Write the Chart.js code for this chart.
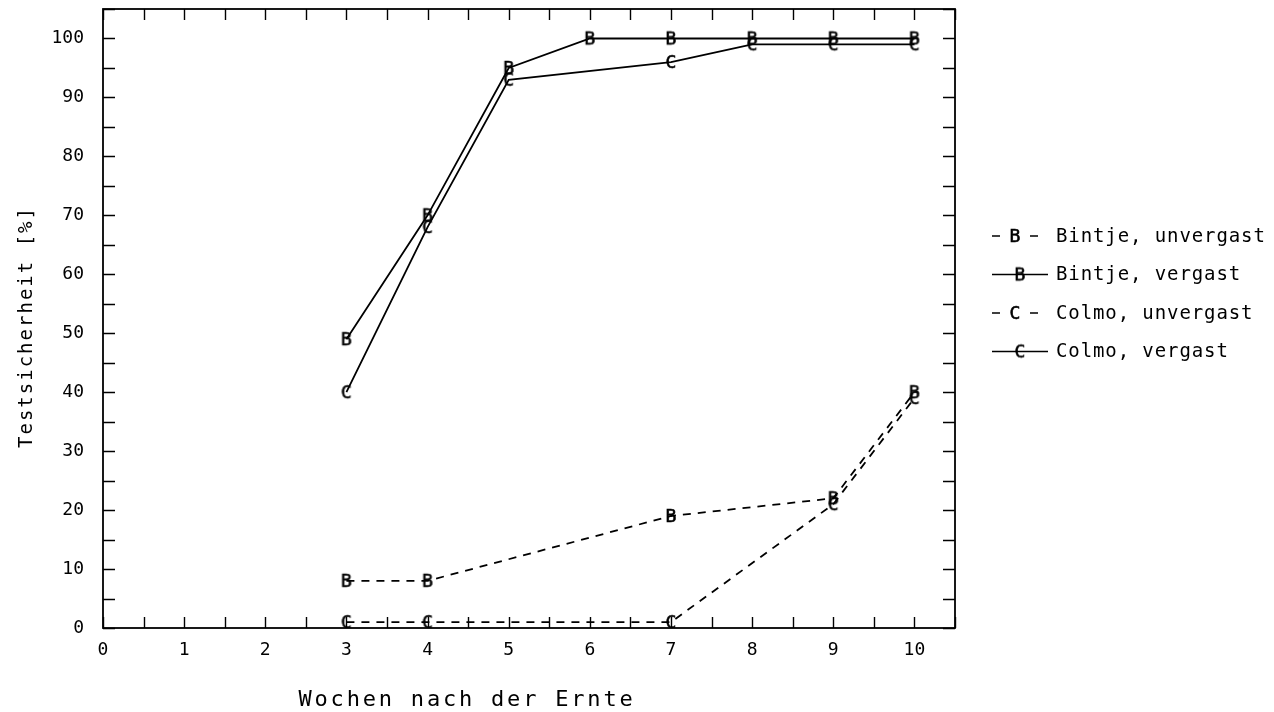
<!DOCTYPE html>
<html>
<head>
<meta charset="utf-8">
<script src="https://cdn.jsdelivr.net/npm/chart.js@4.4.1/dist/chart.umd.min.js"></script>
<style>
  html, body { margin: 0; padding: 0; background: #fff; }
</style>
</head>
<body>
<canvas id="chart" width="1274" height="712"></canvas>
<script>
// values (week after harvest -> test reliability in %)
const bintjeUnWeeks = [3, 4, 7, 9, 10];
const bintjeUn = [8, 8, 19, 22, 40];
const bintjeVWeeks = [3, 4, 5, 6, 7, 8, 9, 10];
const bintjeV = [49, 70, 95, 100, 100, 100, 100, 100];
const colmoUnWeeks = [3, 4, 7, 9, 10];
const colmoUn = [1, 1, 1, 21, 39];
const colmoVWeeks = [3, 4, 5, 7, 8, 9, 10];
const colmoV = [40, 68, 93, 96, 99, 99, 99];

const seriesLabels = ['Bintje, unvergast', 'Bintje, vergast', 'Colmo, unvergast', 'Colmo, vergast'];
const xTitle = 'Wochen nach der Ernte';
const yTitle = 'Testsicherheit [%]';

const MONO = '"DejaVu Sans Mono", "Liberation Mono", monospace';

function letterMark(ch) {
  const c = document.createElement('canvas');
  c.width = 16; c.height = 20;
  const g = c.getContext('2d');
  g.font = '18px ' + MONO;
  g.fillStyle = '#000';
  g.strokeStyle = '#000';
  g.lineWidth = 0.6;
  g.textAlign = 'center';
  g.textBaseline = 'middle';
  g.fillText(ch, 8, 11);
  g.strokeText(ch, 8, 11);
  return c;
}
const markB = letterMark('B');
const markC = letterMark('C');

const pts = (xs, ys) => xs.map((x, i) => ({ x: x, y: ys[i] }));

function line(label, data, mark, dashed) {
  return {
    label: label,
    data: data,
    borderColor: '#000',
    backgroundColor: '#000',
    borderWidth: 1.8,
    borderDash: dashed ? [8, 7] : [],
    tension: 0,
    pointStyle: mark,
    pointRadius: 6,
    fill: false
  };
}

// box, inward ticks, axis titles and legend
const frame = {
  id: 'frame',
  afterDraw(chart) {
    const ctx = chart.ctx;
    const a = chart.chartArea;
    const xs = chart.scales.x, ys = chart.scales.y;
    ctx.save();
    ctx.strokeStyle = '#000';
    ctx.lineWidth = 1.8;
    ctx.strokeRect(a.left, a.top, a.right - a.left, a.bottom - a.top);
    ctx.lineWidth = 1.4;
    ctx.beginPath();
    xs.ticks.forEach(t => {
      const px = Math.round(xs.getPixelForValue(t.value)) + 0.5;
      ctx.moveTo(px, a.bottom); ctx.lineTo(px, a.bottom - 11);
      ctx.moveTo(px, a.top); ctx.lineTo(px, a.top + 11);
    });
    ys.ticks.forEach(t => {
      const py = Math.round(ys.getPixelForValue(t.value)) + 0.5;
      ctx.moveTo(a.left, py); ctx.lineTo(a.left + 12, py);
      ctx.moveTo(a.right, py); ctx.lineTo(a.right - 12, py);
    });
    ctx.stroke();

    ctx.fillStyle = '#000';
    ctx.textBaseline = 'middle';
    ctx.textAlign = 'center';
    ctx.font = '22px ' + MONO;
    ctx.letterSpacing = '2.8px';
    ctx.fillText(xTitle, 467, 700);

    ctx.save();
    ctx.translate(27, 327);
    ctx.rotate(-Math.PI / 2);
    ctx.font = '19px ' + MONO;
    ctx.letterSpacing = '2px';
    ctx.fillText(yTitle, 0, 0);
    ctx.restore();

    // legend
    ctx.font = '19px ' + MONO;
    ctx.letterSpacing = '0.9px';
    ctx.textAlign = 'left';
    chart.data.datasets.forEach((ds, i) => {
      const y = 236 + i * 38.5;
      ctx.lineWidth = 1.6;
      ctx.beginPath();
      if (ds.borderDash.length) {
        ctx.setLineDash([8, 30]);
        ctx.moveTo(992, y); ctx.lineTo(1040, y);
      } else {
        ctx.setLineDash([]);
        ctx.moveTo(992, y); ctx.lineTo(1048, y);
      }
      ctx.stroke();
      ctx.setLineDash([]);
      const m = ds.pointStyle;
      const cx = ds.borderDash.length ? 1015 : 1020;
      ctx.drawImage(m, cx - m.width / 2, y - m.height / 2);
      ctx.fillText(ds.label, 1056, y + 1);
    });
    ctx.restore();
  }
};

new Chart(document.getElementById('chart'), {
  type: 'line',
  data: {
    datasets: [
      line(seriesLabels[0], pts(bintjeUnWeeks, bintjeUn), markB, true),
      line(seriesLabels[1], pts(bintjeVWeeks, bintjeV), markB, false),
      line(seriesLabels[2], pts(colmoUnWeeks, colmoUn), markC, true),
      line(seriesLabels[3], pts(colmoVWeeks, colmoV), markC, false)
    ]
  },
  options: {
    responsive: false,
    animation: false,
    layout: { padding: { top: 9, right: 319, left: 0, bottom: 0 } },
    plugins: { legend: { display: false }, tooltip: { enabled: false } },
    scales: {
      x: {
        type: 'linear',
        min: 0, max: 10.5,
        grid: { display: false, drawTicks: false },
        border: { display: false },
        afterFit: s => { s.height = 84; s.paddingLeft = 0; s.paddingRight = 0; },
        ticks: {
          stepSize: 0.5, autoSkip: false, maxRotation: 0, padding: 12,
          color: '#000', font: { family: MONO, size: 18 },
          callback: v => Number.isInteger(v) ? v : ''
        }
      },
      y: {
        min: 0, max: 105,
        grid: { display: false, drawTicks: false },
        border: { display: false },
        afterFit: s => { s.width = 103; s.paddingTop = 0; s.paddingBottom = 0; },
        ticks: {
          stepSize: 5, autoSkip: false, padding: 19,
          color: '#000', font: { family: MONO, size: 18 },
          callback: v => v % 10 === 0 ? v : ''
        }
      }
    }
  },
  plugins: [frame]
});
</script>
</body>
</html>
